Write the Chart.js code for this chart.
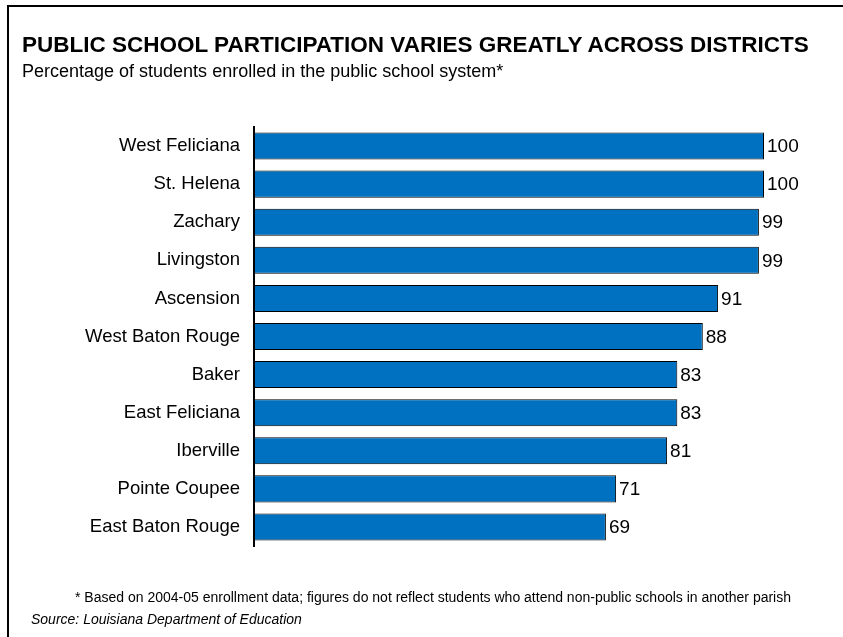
<!DOCTYPE html>
<html>
<head>
<meta charset="utf-8">
<script src="https://cdn.jsdelivr.net/npm/chart.js@4/dist/chart.umd.min.js"></script>
<style>
  html, body { margin: 0; padding: 0; background: #fff; overflow: hidden; }
  #wrap { position: relative; width: 843px; height: 637px; font-family: "Liberation Sans", Arial, sans-serif; color: #000; }
  #frame { position: absolute; left: 7px; top: 5px; width: 840px; height: 640px; border-top: 2px solid #000; border-left: 2px solid #000; }
  #c { position: absolute; left: 0; top: 0; }
  .t { position: absolute; white-space: nowrap; line-height: 1.15; }
  #title { left: 22px; top: 32px; font-size: 22.5px; font-weight: bold; }
  #sub { left: 22px; top: 61px; font-size: 18px; }
  #note { left: 75px; top: 589px; font-size: 14px; }
  #src { left: 31px; top: 611px; font-size: 14px; font-style: italic; }
</style>
</head>
<body>
<div id="wrap">
  <canvas id="c" width="843" height="637"></canvas>
  <div id="frame"></div>
  <div class="t" id="title">PUBLIC SCHOOL PARTICIPATION VARIES GREATLY ACROSS DISTRICTS</div>
  <div class="t" id="sub">Percentage of students enrolled in the public school system*</div>
  <div class="t" id="note">* Based on 2004-05 enrollment data; figures do not reflect students who attend non-public schools in another parish</div>
  <div class="t" id="src">Source: Louisiana Department of Education</div>
</div>
<script>
const districts = ["West Feliciana", "St. Helena", "Zachary", "Livingston", "Ascension", "West Baton Rouge", "Baker", "East Feliciana", "Iberville", "Pointe Coupee", "East Baton Rouge"];
const participation = [100, 100, 99, 99, 91, 88, 83, 83, 81, 71, 69];

const valueLabels = {
  id: 'valueLabels',
  afterDatasetsDraw(chart) {
    const ctx = chart.ctx;
    const meta = chart.getDatasetMeta(0);
    ctx.save();
    ctx.font = '19px "Liberation Sans", Arial, sans-serif';
    ctx.fillStyle = '#000';
    ctx.textAlign = 'left';
    ctx.textBaseline = 'middle';
    meta.data.forEach((bar, i) => {
      ctx.fillText(String(chart.data.datasets[0].data[i]), bar.x + 3, bar.y + 1);
    });
    ctx.restore();
  }
};

new Chart(document.getElementById('c'), {
  type: 'bar',
  data: {
    labels: districts,
    datasets: [{
      data: participation,
      backgroundColor: '#0070C0',
      borderColor: '#000',
      borderWidth: 1,
      borderSkipped: false,
      categoryPercentage: 1.0,
      barPercentage: 0.71
    }]
  },
  options: {
    indexAxis: 'y',
    responsive: false,
    maintainAspectRatio: false,
    animation: false,
    layout: { padding: { top: 127, bottom: 91, left: 0, right: 28 } },
    plugins: { legend: { display: false }, tooltip: { enabled: false }, title: { display: false } },
    scales: {
      x: { display: false, min: 0, max: 110 },
      y: {
        afterFit(scale) { scale.width = 254; },
        grid: { display: false, drawTicks: false },
        border: { display: true, color: '#000', width: 2 },
        ticks: { color: '#000', padding: 14, font: { size: 18.5, family: '"Liberation Sans", Arial, sans-serif' } }
      }
    }
  },
  plugins: [valueLabels]
});
</script>
</body>
</html>
